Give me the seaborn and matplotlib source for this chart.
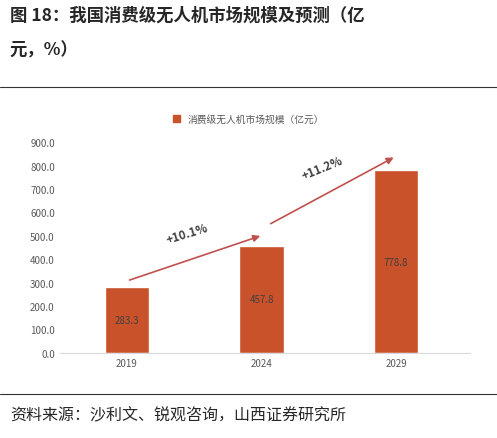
import matplotlib
matplotlib.use("Agg")
import seaborn as sns
import pandas as pd
from matplotlib import pyplot as plt
from matplotlib.lines import Line2D
from matplotlib.patches import Patch

years = ["2019", "2024", "2029"]
market = [283.3, 457.8, 778.8]
growth = ["+10.1%", "+11.2%"]
series_name = "消费级无人机市场规模（亿元）"

sns.set_style("white")
plt.rcParams['font.family'] = ['Noto Sans CJK SC', 'DejaVu Sans']

df = pd.DataFrame({"year": years, "value": market})
fig = plt.figure(figsize=(4.97, 4.39), dpi=100)
ax = fig.add_axes([0.12, 0.194, 0.826, 0.48])
bar_color = "#C9522B"
sns.barplot(data=df, x="year", y="value", color=bar_color, width=0.33, ax=ax, saturation=1)

for i, v in enumerate(market):
    ax.text(i, v / 2, "{:.1f}".format(v), ha="center", va="center", fontsize=7, color="#404040")

ax.set_ylim(0, 900)
ax.set_yticks(range(0, 901, 100))
ax.set_yticklabels(["{:.1f}".format(t) for t in range(0, 901, 100)], fontsize=7, color="#595959")
ax.tick_params(axis="x", labelsize=7, colors="#595959", length=0)
ax.tick_params(axis="y", length=0)
ax.set_xlabel("")
ax.set_ylabel("")
for s in ["top", "right", "left"]:
    ax.spines[s].set_visible(False)
ax.spines["bottom"].set_color("#d9d9d9")
ax.set_xlim(-0.5, 2.55)

arrow_kw = dict(arrowstyle="-|>", color="#C0504D", lw=1.2, mutation_scale=10)
ax.annotate("", xy=(1.01, 503), xytext=(0, 307), arrowprops=arrow_kw)
ax.annotate("", xy=(2.0, 840), xytext=(1.05, 546), arrowprops=arrow_kw)
ax.text(0.45, 470, growth[0], fontsize=8.5, fontweight="bold", color="#404040", rotation=17, ha="center")
ax.text(1.45, 745, growth[1], fontsize=8.5, fontweight="bold", color="#404040", rotation=22, ha="center")

fig.legend(handles=[Patch(color=bar_color)], labels=[series_name], loc="center",
           bbox_to_anchor=(0.5, 0.727), frameon=False, fontsize=7, handlelength=0.7,
           handleheight=0.7, labelcolor="#595959")

fig.text(0.02, 0.965, "图 18：我国消费级无人机市场规模及预测（亿", fontsize=12.5, fontweight="bold", va="center")
fig.text(0.02, 0.885, "元，%）", fontsize=12.5, fontweight="bold", va="center")
fig.add_artist(Line2D([0.0, 1.0], [0.8, 0.8], color="#333333", lw=0.8))
fig.add_artist(Line2D([0.0, 1.0], [0.1, 0.1], color="#333333", lw=0.8))
fig.text(0.02, 0.052, "资料来源：沙利文、锐观咨询，山西证券研究所", fontsize=11.5, va="center")

fig.savefig("out.png", dpi=100)
